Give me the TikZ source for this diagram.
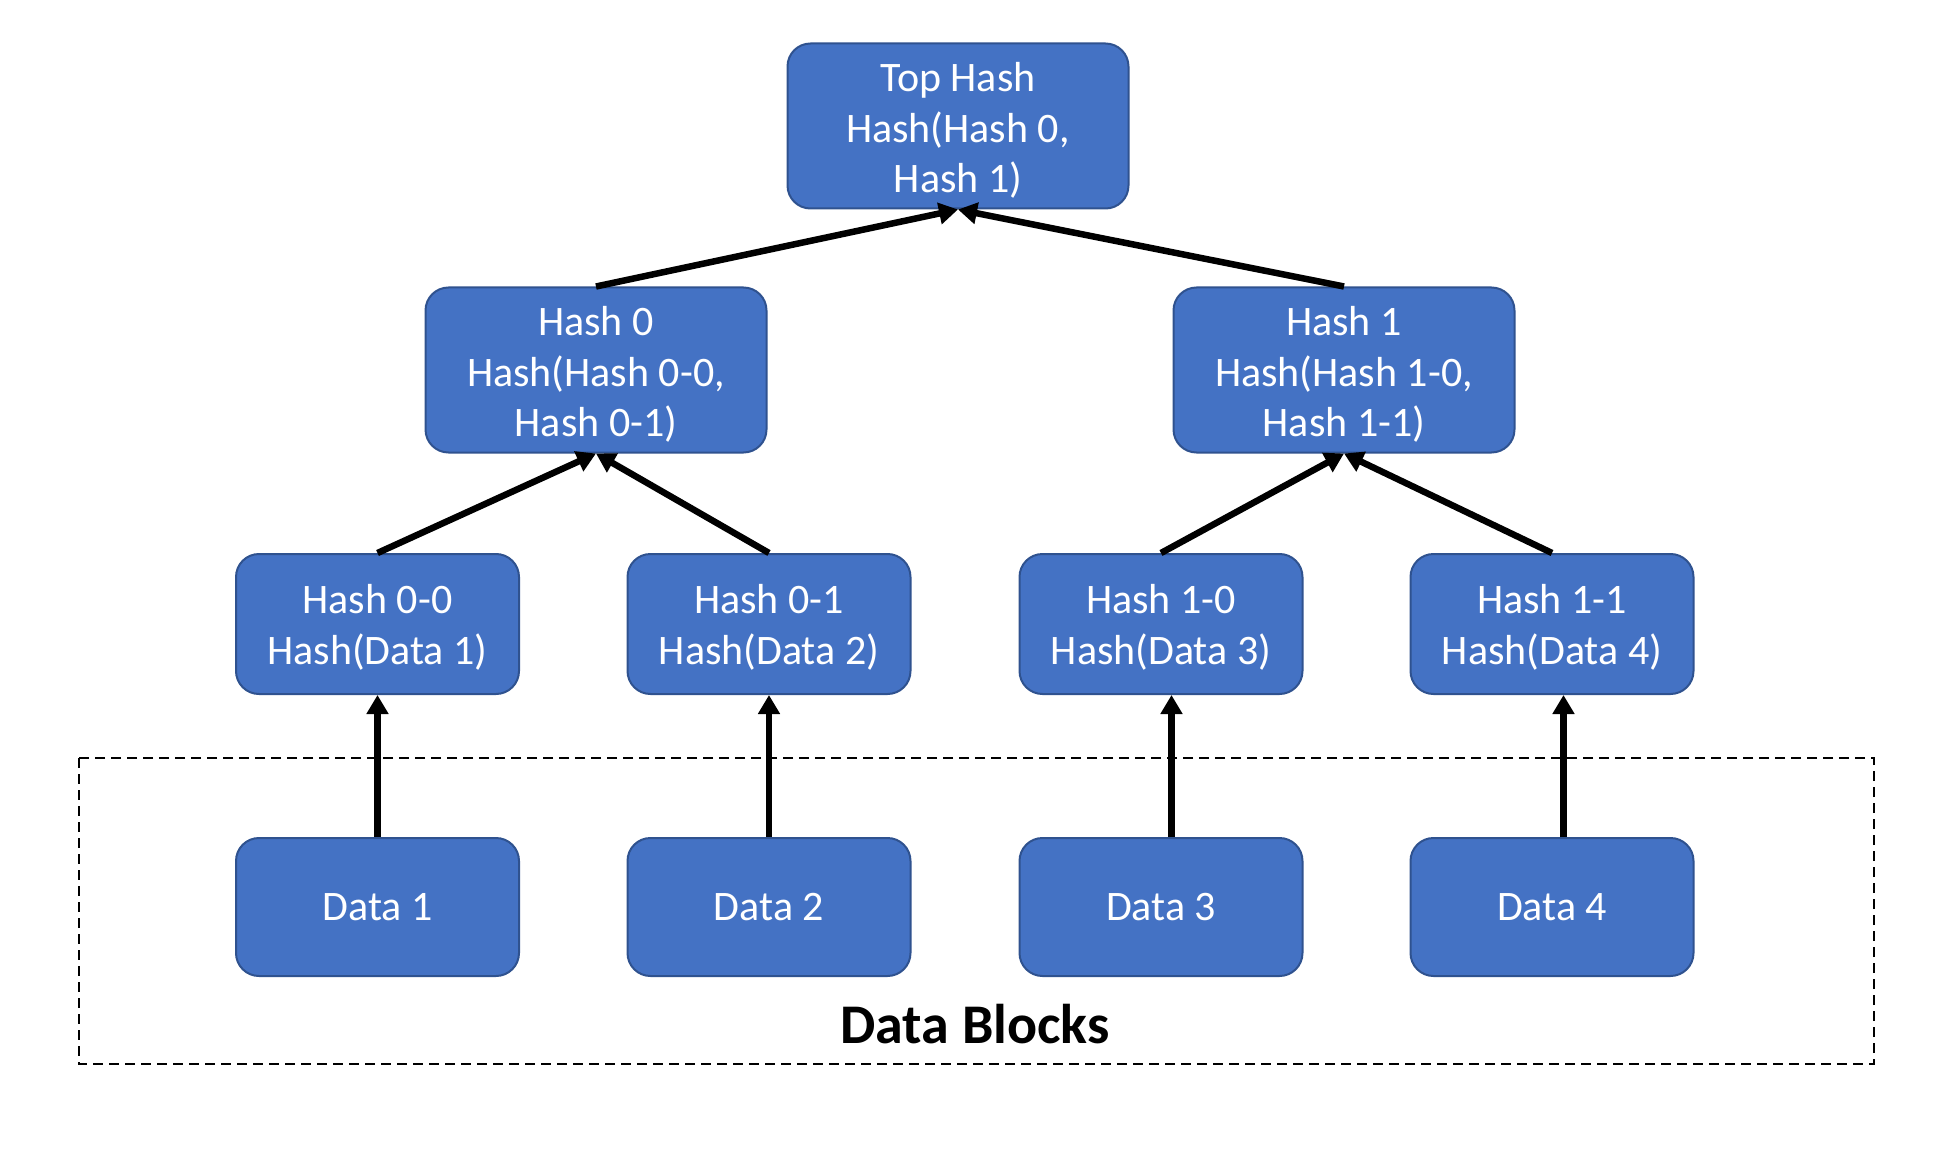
\documentclass[tikz,border=0pt]{standalone}
\usepackage{fontspec}
\setmainfont{Carlito}
\usetikzlibrary{arrows.meta}
\definecolor{boxfill}{HTML}{4472C4}
\definecolor{boxline}{HTML}{2F528F}
\begin{document}
\begin{tikzpicture}[x=1pt,y=-1pt,
  hbox/.style={draw=boxline, line width=2pt, fill=boxfill, rounded corners=23pt,
    inner sep=0pt},
  txt/.style={text=white, align=center, inner sep=0pt,
    font=\fontsize{42}{50.7}\selectfont},
  big/.style={hbox, minimum width=341pt, minimum height=165pt,
    label={[txt, yshift=-4.5pt]center:{#1}}},
  small/.style={hbox, minimum width=283pt, minimum height=140pt,
    label={[txt, yshift=-3pt]center:{#1}}},
  data/.style={hbox, minimum width=283pt, minimum height=138pt,
    label={[txt]center:{#1}}},
  conn/.style={line width=6.5pt, -{Triangle[length=19pt,width=21pt]}}
]
\useasboundingbox (0,0) rectangle (1938,1166);
\draw[dash pattern=on 10pt off 6pt, line width=2pt] (79,758) rectangle (1874,1064);
\node[font=\fontsize{56}{62}\selectfont\bfseries, anchor=base] (lbl) at (975,1043) {Data Blocks};

\node[big={Top Hash\\Hash(Hash 0,\\Hash 1)}] (top) at (958,126) {};
\node[big={Hash 0\\Hash(Hash 0-0,\\Hash 0-1)}] (h0) at (596,370) {};
\node[big={Hash 1\\Hash(Hash 1-0,\\Hash 1-1)}] (h1) at (1344,370) {};

\node[small={Hash 0-0\\Hash(Data 1)}] (h00) at (377.5,624) {};
\node[small={Hash 0-1\\Hash(Data 2)}] (h01) at (769,624) {};
\node[small={Hash 1-0\\Hash(Data 3)}] (h10) at (1161,624) {};
\node[small={Hash 1-1\\Hash(Data 4)}] (h11) at (1552,624) {};

\node[data={Data 1}] (d1) at (377.5,907) {};
\node[data={Data 2}] (d2) at (769,907) {};
\node[data={Data 3}] (d3) at (1161,907) {};
\node[data={Data 4}] (d4) at (1552,907) {};

\draw[conn] (h0.north) -- (top.south);
\draw[conn] (h1.north) -- (top.south);
\draw[conn] (h00.north) -- (h0.south);
\draw[conn] (h01.north) -- (h0.south);
\draw[conn] (h10.north) -- (h1.south);
\draw[conn] (h11.north) -- (h1.south);
\draw[conn] (d1.north) -- (h00.south);
\draw[conn] (d2.north) -- (h01.south);
\draw[conn] ([xshift=10.5pt]d3.north) -- ([xshift=10.5pt]h10.south);
\draw[conn] ([xshift=11.5pt]d4.north) -- ([xshift=11.5pt]h11.south);
\end{tikzpicture}
\end{document}
